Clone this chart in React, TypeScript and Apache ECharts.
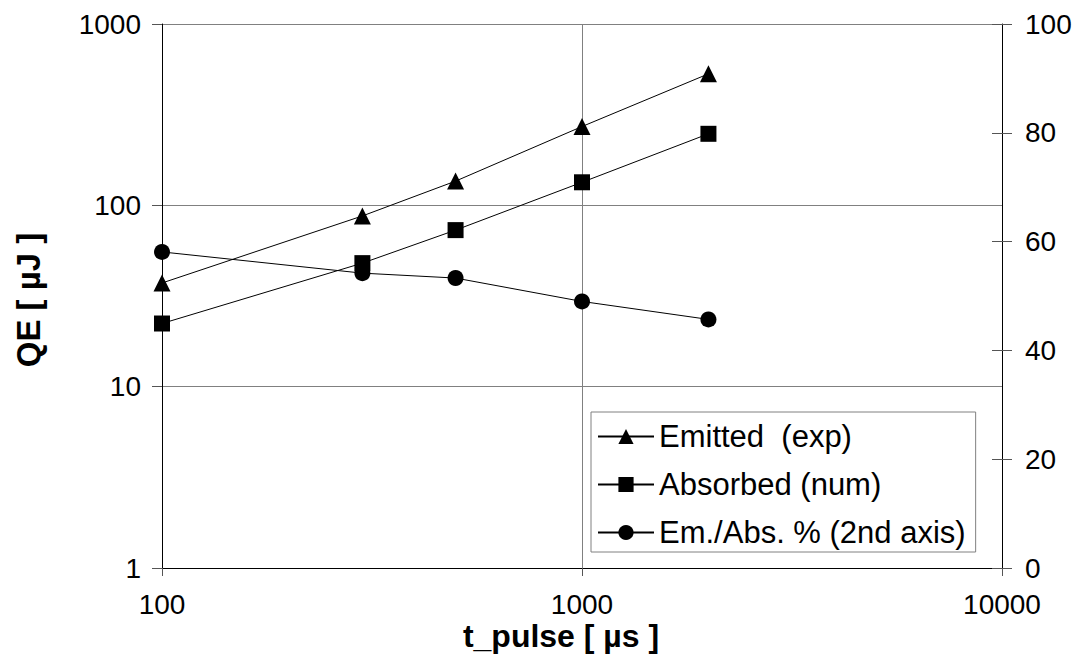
import React, { useEffect, useRef } from "react";
import * as echarts from "echarts";

// ---- data ----
const tPulse = [100, 300, 500, 1000, 2000];
const emitted = [37.3, 87.4, 136, 272, 531];
const absorbed = [22.3, 48, 73, 134, 248];
const ratioPct = [58.1, 54.2, 53.3, 49.0, 45.7];
const seriesNames = ["Emitted  (exp)", "Absorbed (num)", "Em./Abs. % (2nd axis)"];
const xTitle = "t_pulse [ µs ]";
const yTitle = "QE [ µJ ]";

const FONT = '"Liberation Sans", Arial, sans-serif';

export default function App() {
  const ref = useRef<HTMLDivElement>(null);

  useEffect(() => {
    if (!ref.current) return;
    const chart = echarts.init(ref.current, undefined, { renderer: "svg" });

    const plain = (v: number) => String(Math.round(v));
    const axisLabelBase = { color: "#000", fontSize: 28, fontFamily: FONT, formatter: plain };
    const tickStyle = { color: "#555", width: 1 };
    const gridLine = { show: true, lineStyle: { color: "#808080", width: 1 } };

    const lineSeries = (name: string, ys: number[], symbol: string, size: number, yAxisIndex: number) => ({
      name,
      type: "line",
      yAxisIndex,
      data: tPulse.map((t, i) => [t, ys[i]]),
      symbol,
      symbolSize: size,
      showAllSymbol: true,
      lineStyle: { color: "#000", width: 1 },
      itemStyle: { color: "#000" },
      emphasis: { disabled: true },
    });

    chart.setOption({
      animation: false,
      backgroundColor: "#fff",
      grid: { left: 162, right: 81, top: 24, bottom: 100 },
      xAxis: {
        type: "log",
        logBase: 10,
        min: 100,
        max: 10000,
        axisLine: { show: true, lineStyle: { color: "#000", width: 1 } },
        axisTick: { show: true, inside: false, length: 8, lineStyle: tickStyle },
        axisLabel: { ...axisLabelBase, margin: 22 },
        splitLine: gridLine,
        minorTick: { show: false },
      },
      yAxis: [
        {
          type: "log",
          logBase: 10,
          min: 1,
          max: 1000,
          position: "left",
          axisLine: { show: true, lineStyle: { color: "#000", width: 1 } },
          axisTick: { show: true, inside: false, length: 10, lineStyle: tickStyle },
          axisLabel: { ...axisLabelBase, margin: 21 },
          splitLine: gridLine,
        },
        {
          type: "value",
          min: 0,
          max: 100,
          interval: 20,
          position: "right",
          axisLine: { show: true, lineStyle: { color: "#000", width: 1 } },
          axisTick: { show: true, inside: false, length: 10, lineStyle: tickStyle },
          axisLabel: { ...axisLabelBase, margin: 23 },
          splitLine: { show: false },
        },
        {
          type: "value",
          min: 0,
          max: 100,
          interval: 20,
          position: "right",
          axisLine: { show: false },
          axisTick: { show: true, inside: true, length: 10, lineStyle: tickStyle },
          axisLabel: { show: false },
          splitLine: { show: false },
        },
      ],
      legend: {
        data: seriesNames,
        orient: "vertical",
        left: 591,
        top: 412,
        itemWidth: 56,
        itemHeight: 19,
        itemGap: 17,
        padding: [9, 10, 4, 6],
        borderColor: "#808080",
        borderWidth: 1,
        backgroundColor: "#fff",
        selectedMode: false,
        textStyle: { color: "#000", fontSize: 31, fontFamily: FONT },
      },
      graphic: [
        {
          type: "text",
          x: 561,
          y: 636,
          style: {
            text: xTitle,
            fill: "#000",
            fontSize: 32,
            fontWeight: "bold",
            fontFamily: FONT,
            align: "center",
            verticalAlign: "middle",
            textAlign: "center",
            textVerticalAlign: "middle",
          },
        },
        {
          type: "text",
          x: 28,
          y: 300,
          rotation: Math.PI / 2,
          style: {
            text: yTitle,
            fill: "#000",
            fontSize: 33,
            fontWeight: "bold",
            fontFamily: FONT,
            align: "center",
            verticalAlign: "middle",
            textAlign: "center",
            textVerticalAlign: "middle",
          },
        },
      ],
      series: [
        lineSeries(seriesNames[0], emitted, "triangle", 17, 0),
        lineSeries(seriesNames[1], absorbed, "rect", 16, 0),
        lineSeries(seriesNames[2], ratioPct, "circle", 16, 1),
      ],
    });

    return () => chart.dispose();
  }, []);

  return (
    <div
      ref={ref}
      style={{ position: "absolute", left: 0, top: 0, width: 1083, height: 668 }}
    />
  );
}
